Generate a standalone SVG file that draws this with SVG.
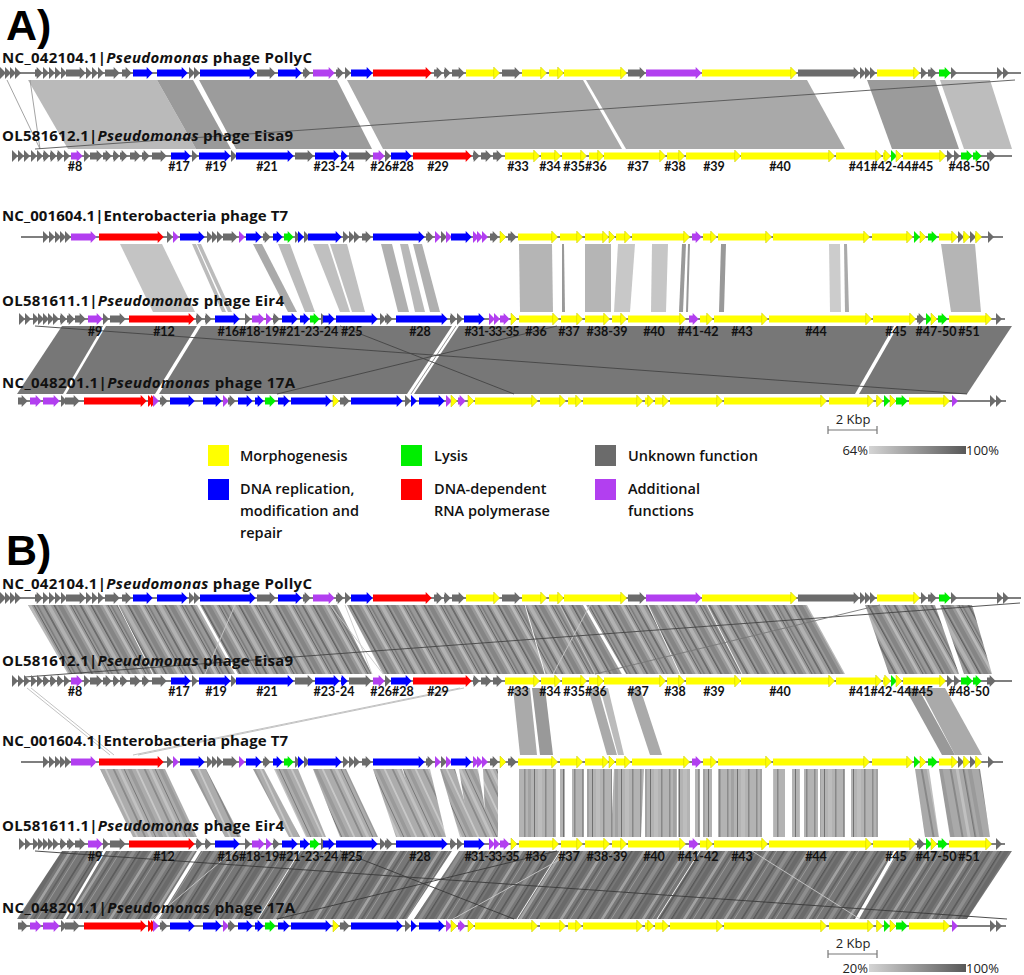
<svg xmlns="http://www.w3.org/2000/svg" width="1024" height="975" viewBox="0 0 1024 975">
<defs>
<style>
.ax{stroke:#555;stroke-width:1.3}
.k{stroke:#6b6b6b;marker-end:url(#mk)}
.y{stroke:#ffff00;marker-end:url(#my)}
.b{stroke:#0000ff;marker-end:url(#mb)}
.r{stroke:#ff0000;marker-end:url(#mr)}
.p{stroke:#b23ff0;marker-end:url(#mp)}
.gr{stroke:#00ee00;marker-end:url(#mg)}
.tl{font-family:"Open Sans","Liberation Sans",sans-serif;font-weight:700;font-size:15px;fill:#111}
.nl{font-family:Lato,"Open Sans","Liberation Sans",sans-serif;font-weight:700;font-size:12.5px;fill:#111;text-anchor:middle}
.lg{font-family:"Open Sans","Liberation Sans",sans-serif;font-weight:600;font-size:14.5px;fill:#111}
.big{font-family:"Liberation Sans","Open Sans",sans-serif;font-weight:700;font-size:43px;fill:#000}
.sc{font-family:"Open Sans","Liberation Sans",sans-serif;font-size:13px;fill:#222}
.thin{fill:none;stroke-width:0.9}
</style>
<marker id="mk" markerUnits="userSpaceOnUse" markerWidth="7" markerHeight="12" refX="0.3" refY="0" orient="0" overflow="visible"><path d="M0-6L6 0L0 6Z" fill="#6b6b6b"/></marker>
<marker id="my" markerUnits="userSpaceOnUse" markerWidth="7" markerHeight="12" refX="0.3" refY="0" orient="0" overflow="visible"><path d="M0-6L6 0L0 6Z" fill="#ffff00" stroke="#c8c800" stroke-width="0.5"/></marker>
<marker id="mb" markerUnits="userSpaceOnUse" markerWidth="7" markerHeight="12" refX="0.3" refY="0" orient="0" overflow="visible"><path d="M0-6L6 0L0 6Z" fill="#0000ff"/></marker>
<marker id="mr" markerUnits="userSpaceOnUse" markerWidth="7" markerHeight="12" refX="0.3" refY="0" orient="0" overflow="visible"><path d="M0-6L6 0L0 6Z" fill="#ff0000"/></marker>
<marker id="mp" markerUnits="userSpaceOnUse" markerWidth="7" markerHeight="12" refX="0.3" refY="0" orient="0" overflow="visible"><path d="M0-6L6 0L0 6Z" fill="#b23ff0"/></marker>
<marker id="mg" markerUnits="userSpaceOnUse" markerWidth="7" markerHeight="12" refX="0.3" refY="0" orient="0" overflow="visible"><path d="M0-6L6 0L0 6Z" fill="#00ee00"/></marker>
<linearGradient id="gs"><stop offset="0" stop-color="#d4d4d4"/><stop offset="1" stop-color="#585858"/></linearGradient>
<pattern id="pA" width="37" height="80" patternUnits="userSpaceOnUse" patternTransform="skewX(29)">
<rect width="37" height="80" fill="#999"/><rect x="3" width="2" height="80" fill="#6c6c6c"/><rect x="7" width="4" height="80" fill="#b2b2b2"/><rect x="14" width="1.5" height="80" fill="#5c5c5c"/><rect x="18" width="5" height="80" fill="#858585"/><rect x="26" width="3" height="80" fill="#bababa"/><rect x="31" width="1" height="80" fill="#636363"/><rect x="34" width="1.5" height="80" fill="#787878"/>
</pattern>
<pattern id="pL" width="31" height="80" patternUnits="userSpaceOnUse" patternTransform="skewX(25)">
<rect width="31" height="80" fill="#acacac"/><rect x="2" width="2" height="80" fill="#8a8a8a"/><rect x="7" width="3" height="80" fill="#c2c2c2"/><rect x="13" width="1" height="80" fill="#777"/><rect x="17" width="4" height="80" fill="#9a9a9a"/><rect x="25" width="2" height="80" fill="#c8c8c8"/>
</pattern>
<pattern id="pM" width="29" height="80" patternUnits="userSpaceOnUse">
<rect width="29" height="80" fill="#b3b3b3"/><rect x="2" width="1.5" height="80" fill="#8c8c8c"/><rect x="6" width="3" height="80" fill="#a2a2a2"/><rect x="12" width="1" height="80" fill="#707070"/><rect x="16" width="4" height="80" fill="#bdbdbd"/><rect x="23" width="1.5" height="80" fill="#888"/>
</pattern>
<pattern id="pR" width="29" height="80" patternUnits="userSpaceOnUse" patternTransform="skewX(10)">
<rect width="29" height="80" fill="#a9a9a9"/><rect x="2" width="2" height="80" fill="#888"/><rect x="8" width="3" height="80" fill="#c0c0c0"/><rect x="15" width="1.5" height="80" fill="#777"/><rect x="20" width="4" height="80" fill="#9a9a9a"/>
</pattern>
<pattern id="pD" width="41" height="80" patternUnits="userSpaceOnUse" patternTransform="skewX(-32)">
<rect width="41" height="80" fill="#777"/><rect x="3" width="2" height="80" fill="#5c5c5c"/><rect x="8" width="4" height="80" fill="#8e8e8e"/><rect x="15" width="1.5" height="80" fill="#555"/><rect x="19" width="5" height="80" fill="#6a6a6a"/><rect x="27" width="3" height="80" fill="#a2a2a2"/><rect x="33" width="2" height="80" fill="#626262"/><rect x="37" width="1" height="80" fill="#999"/>
</pattern>

<g id="t1" stroke-width="7">
<line x1="0" x2="1021" class="ax"/>
<line x1="0" x2="0.3" class="k"/><line x1="5" x2="5.3" class="k"/><line x1="10" x2="10.3" class="k"/><line x1="15" x2="15.3" class="k"/>
<line x1="35" x2="37" class="k"/><line x1="43" x2="43.3" class="k"/><line x1="49" x2="49.3" class="k"/><line x1="55" x2="55.3" class="k"/><line x1="61" x2="61.3" class="k"/><line x1="66" x2="80" class="k"/><line x1="86" x2="86.3" class="k"/><line x1="92" x2="92.3" class="k"/><line x1="98" x2="98.3" class="k"/><line x1="105" x2="114" class="k"/><line x1="122" x2="126" class="k"/>
<line x1="133" x2="147" class="b"/><line x1="157" x2="182" class="b"/>
<line x1="189" x2="189.3" class="k"/><line x1="194" x2="194.3" class="k"/>
<line x1="200" x2="250" class="b"/><line x1="257" x2="270" class="k"/><line x1="278" x2="296" class="b"/><line x1="303" x2="305" class="k"/>
<line x1="313" x2="329" class="p"/><line x1="336" x2="338" class="k"/><line x1="345" x2="345.3" class="k"/>
<line x1="351" x2="367" class="b"/><line x1="373" x2="426" class="r"/>
<line x1="434" x2="437" class="k"/><line x1="444" x2="445" class="k"/><line x1="452" x2="459" class="k"/>
<line x1="466" x2="494" class="y"/><line x1="502" x2="515" class="k"/>
<line x1="522" x2="541" class="y"/><line x1="549" x2="558" class="y"/><line x1="564" x2="621" class="y"/>
<line x1="628" x2="640" class="k"/><line x1="646" x2="696" class="p"/><line x1="702" x2="791" class="y"/>
<line x1="798" x2="854" class="k"/><line x1="860" x2="860.3" class="k"/><line x1="865" x2="865.3" class="k"/><line x1="870" x2="870.3" class="k"/>
<line x1="877" x2="914" class="y"/><line x1="921" x2="921.3" class="k"/><line x1="928" x2="931" class="k"/>
<line x1="939" x2="945" class="gr"/><line x1="951" x2="951.3" class="k"/>
<line x1="997" x2="997.3" class="k"/><line x1="1003" x2="1003.3" class="k"/>
</g>

<g id="t2" stroke-width="7">
<line x1="12" x2="1012" class="ax"/>
<line x1="12" x2="12.3" class="k"/><line x1="18" x2="18.3" class="k"/><line x1="24" x2="24.3" class="k"/><line x1="31" x2="31.3" class="k"/><line x1="37" x2="37.3" class="k"/><line x1="43" x2="44" class="k"/><line x1="50" x2="51" class="k"/><line x1="57" x2="58" class="k"/><line x1="64" x2="64.3" class="k"/>
<line x1="71" x2="77" class="p"/>
<line x1="84" x2="84.3" class="k"/><line x1="90" x2="97" class="k"/><line x1="103" x2="106" class="k"/><line x1="113" x2="114" class="k"/><line x1="120" x2="122" class="k"/><line x1="130" x2="135" class="k"/><line x1="142" x2="144" class="k"/><line x1="152" x2="161" class="k"/>
<line x1="171" x2="185" class="b"/><line x1="192" x2="192.3" class="k"/><line x1="199" x2="225" class="b"/><line x1="231" x2="231.3" class="k"/><line x1="236" x2="288" class="b"/>
<line x1="295" x2="308" class="k"/><line x1="315" x2="334" class="b"/><line x1="341" x2="342" class="b"/><line x1="349" x2="366" class="k"/>
<line x1="373" x2="379" class="p"/><line x1="385" x2="385.3" class="k"/><line x1="391" x2="406" class="b"/><line x1="413" x2="466" class="r"/>
<line x1="473" x2="474" class="k"/><line x1="481" x2="486" class="k"/><line x1="493" x2="497" class="k"/>
<line x1="505" x2="534" class="y"/><line x1="541" x2="555" class="y"/><line x1="562" x2="581" class="y"/><line x1="589" x2="598" class="y"/><line x1="604" x2="660" class="y"/><line x1="667" x2="679" class="y"/><line x1="686" x2="735" class="y"/><line x1="741" x2="829" class="y"/><line x1="836" x2="876" class="y"/><line x1="883" x2="885" class="y"/>
<line x1="891" x2="891.3" class="gr"/><line x1="896" x2="896.3" class="y"/><line x1="903" x2="940" class="y"/>
<line x1="947" x2="947.3" class="k"/><line x1="954" x2="954.3" class="k"/>
<line x1="961" x2="967" class="gr"/><line x1="973" x2="976" class="gr"/><line x1="987" x2="990" class="k"/>
</g>

<g id="t3" stroke-width="7">
<line x1="21" x2="1003" class="ax"/>
<line x1="43" x2="43.3" class="k"/><line x1="49" x2="49.3" class="k"/><line x1="55" x2="55.3" class="k"/><line x1="60" x2="60.3" class="k"/><line x1="65" x2="65.3" class="k"/>
<line x1="71" x2="91" class="p"/><line x1="99" x2="158" class="r"/>
<line x1="167" x2="167.3" class="k"/><line x1="173" x2="173.3" class="p"/><line x1="180" x2="199" class="b"/>
<line x1="207" x2="207.3" class="k"/><line x1="212" x2="212.3" class="k"/><line x1="217" x2="217.3" class="k"/><line x1="223" x2="232" class="k"/>
<line x1="239" x2="239.3" class="p"/><line x1="246" x2="256" class="b"/><line x1="263" x2="265" class="k"/><line x1="273" x2="277" class="b"/><line x1="284" x2="288" class="gr"/>
<line x1="295" x2="295.3" class="k"/><line x1="298" x2="298.3" class="b"/><line x1="304" x2="304.3" class="k"/><line x1="308" x2="336" class="b"/>
<line x1="343" x2="343.3" class="k"/><line x1="349" x2="349.3" class="k"/><line x1="354" x2="354.3" class="k"/><line x1="362" x2="366" class="k"/>
<line x1="373" x2="419" class="b"/><line x1="426" x2="428" class="k"/><line x1="435" x2="435.3" class="p"/><line x1="441" x2="441.3" class="k"/><line x1="446" x2="446.3" class="p"/>
<line x1="451" x2="466" class="b"/><line x1="473" x2="473.3" class="p"/><line x1="477" x2="477.3" class="p"/><line x1="482" x2="482.3" class="p"/>
<line x1="490" x2="493" class="k"/><line x1="500" x2="500.3" class="y"/><line x1="508" x2="511" class="k"/>
<line x1="518" x2="552" class="y"/><line x1="560" x2="577" class="y"/><line x1="585" x2="603" class="y"/><line x1="609" x2="609.3" class="y"/><line x1="616" x2="625" class="y"/><line x1="632" x2="684" class="y"/>
<line x1="692" x2="696" class="p"/><line x1="703" x2="711" class="y"/><line x1="718" x2="766" class="y"/><line x1="773" x2="864" class="y"/><line x1="872" x2="907" class="y"/>
<line x1="914" x2="914.3" class="gr"/><line x1="920" x2="920.3" class="y"/><line x1="928" x2="932" class="gr"/><line x1="939" x2="952" class="y"/>
<line x1="958" x2="958.3" class="k"/><line x1="963" x2="964" class="y"/><line x1="970" x2="970.3" class="k"/><line x1="975" x2="976" class="y"/><line x1="988" x2="988.3" class="k"/>
</g>

<g id="t4" stroke-width="7">
<line x1="19" x2="1005" class="ax"/>
<line x1="19" x2="19.3" class="k"/><line x1="25" x2="25.3" class="k"/><line x1="33" x2="33.3" class="k"/><line x1="38" x2="38.3" class="k"/><line x1="43" x2="43.3" class="k"/><line x1="48" x2="48.3" class="k"/><line x1="53" x2="53.3" class="k"/><line x1="60" x2="61" class="k"/><line x1="67" x2="69" class="k"/><line x1="75" x2="80" class="k"/>
<line x1="88" x2="97" class="p"/><line x1="103" x2="103.3" class="k"/><line x1="110" x2="120" class="k"/><line x1="129" x2="189" class="r"/>
<line x1="196" x2="197" class="k"/><line x1="205" x2="206" class="k"/><line x1="215" x2="234" class="b"/><line x1="245" x2="245.3" class="k"/>
<line x1="252" x2="259" class="p"/><line x1="266" x2="266.3" class="p"/><line x1="273" x2="274" class="k"/>
<line x1="282" x2="292" class="b"/><line x1="300" x2="304" class="b"/><line x1="310" x2="314" class="gr"/><line x1="321" x2="321.3" class="k"/>
<line x1="323" x2="329" class="b"/><line x1="336" x2="372" class="b"/><line x1="380" x2="380.3" class="k"/><line x1="385" x2="387" class="k"/>
<line x1="396" x2="442" class="b"/><line x1="450" x2="451" class="k"/><line x1="457" x2="457.3" class="k"/><line x1="464" x2="479" class="b"/>
<line x1="489" x2="489.3" class="p"/><line x1="494" x2="494.3" class="p"/><line x1="500" x2="504" class="p"/>
<line x1="511" x2="511.3" class="y"/><line x1="519" x2="553" class="y"/><line x1="561" x2="577" class="y"/><line x1="585" x2="604" class="y"/><line x1="612" x2="621" class="y"/><line x1="628" x2="680" class="y"/>
<line x1="689" x2="693" class="p"/><line x1="700" x2="707" class="y"/><line x1="714" x2="762" class="y"/><line x1="769" x2="866" class="y"/><line x1="873" x2="910" class="y"/>
<line x1="917" x2="919" class="k"/><line x1="926" x2="926.3" class="gr"/><line x1="931" x2="931.3" class="y"/><line x1="938" x2="942" class="gr"/><line x1="949" x2="986" class="y"/><line x1="996" x2="996.3" class="k"/>
</g>

<g id="t5" stroke-width="7">
<line x1="18" x2="1006" class="ax"/>
<line x1="18" x2="22" class="k"/><line x1="30" x2="36" class="p"/><line x1="43" x2="54" class="p"/>
<line x1="61" x2="61.3" class="k"/><line x1="65" x2="74" class="k"/>
<line x1="84" x2="141" class="r"/><line x1="148" x2="148.3" class="r"/><line x1="151" x2="151.3" class="r"/><line x1="153" x2="153.3" class="p"/>
<line x1="160" x2="162" class="k"/><line x1="170" x2="189" class="b"/><line x1="203" x2="216" class="b"/><line x1="223" x2="223.3" class="p"/><line x1="228" x2="230" class="k"/>
<line x1="238" x2="247" class="b"/><line x1="255" x2="258" class="b"/><line x1="265" x2="270" class="gr"/><line x1="278" x2="284" class="b"/><line x1="291" x2="326" class="b"/>
<line x1="333" x2="333.3" class="y"/><line x1="340" x2="344" class="k"/><line x1="351" x2="397" class="b"/><line x1="405" x2="405.3" class="k"/><line x1="411" x2="411.3" class="b"/><line x1="419" x2="439" class="b"/>
<line x1="446" x2="446.3" class="p"/><line x1="451" x2="451.3" class="y"/><line x1="458" x2="460" class="p"/><line x1="468" x2="468.3" class="y"/>
<line x1="475" x2="532" class="y"/><line x1="540" x2="560" class="y"/><line x1="568" x2="576" class="y"/><line x1="583" x2="637" class="y"/><line x1="645" x2="648" class="y"/><line x1="655" x2="663" class="y"/><line x1="670" x2="717" class="y"/><line x1="724" x2="821" class="y"/><line x1="829" x2="868" class="y"/><line x1="876" x2="877" class="y"/>
<line x1="884" x2="884.3" class="gr"/><line x1="890" x2="890.3" class="y"/><line x1="896" x2="902" class="gr"/><line x1="909" x2="944" class="y"/><line x1="952" x2="952.3" class="p"/>
<line x1="990" x2="990.3" class="k"/><line x1="996" x2="996.3" class="k"/>
</g>

<g id="lab2">
<text class="nl" x="75">#8</text><text class="nl" x="179">#17</text><text class="nl" x="216">#19</text><text class="nl" x="267">#21</text><text class="nl" x="334">#23-24</text><text class="nl" x="392">#26#28</text><text class="nl" x="438">#29</text>
<text class="nl" x="518">#33</text><text class="nl" x="550">#34</text><text class="nl" x="585">#35#36</text><text class="nl" x="638">#37</text><text class="nl" x="675">#38</text><text class="nl" x="714">#39</text><text class="nl" x="780">#40</text><text class="nl" x="891">#41#42-44#45</text><text class="nl" x="969">#48-50</text>
</g>
<g id="lab4">
<text class="nl" x="95">#9</text><text class="nl" x="164">#12</text><text class="nl" x="290" textLength="145">#16#18-19#21-23-24 #25</text><text class="nl" x="420">#28</text><text class="nl" x="492" textLength="55">#31-33-35</text>
<text class="nl" x="536">#36</text><text class="nl" x="569">#37</text><text class="nl" x="607">#38-39</text><text class="nl" x="654">#40</text><text class="nl" x="698">#41-42</text><text class="nl" x="742">#43</text><text class="nl" x="816">#44</text><text class="nl" x="896">#45</text><text class="nl" x="936">#47-50</text><text class="nl" x="969">#51</text>
</g>
</defs>

<text class="big" x="6" y="40">A)</text>
<text class="big" x="6" y="565">B)</text>

<!-- Panel A connectors -->
<g id="connA">
<g id="a12">
<polygon points="28,80 157,80 196,149 68,149" fill="#bababa"/>
<polygon points="157,80 193,80 231,149 196,149" fill="#9a9a9a"/>
<polygon points="199,80 337,80 372,149 236,149" fill="#9c9c9c"/>
<polygon points="347,80 583,80 622,149 383,149" fill="#a9a9a9"/>
<polygon points="586,80 807,80 845,149 626,149" fill="#a9a9a9"/>
<polygon points="867,80 935,80 959,149 892,149" fill="#9b9b9b"/>
<polygon points="940,80 990,80 1012,149 964,149" fill="#bdbdbd"/>
<path class="thin" stroke="#999" d="M7 80L40 149M30 80L40 149"/>
<path class="thin" stroke="#555" stroke-width="0.8" d="M35 149L1015 80"/>
</g>
<g id="a34">
<polygon points="120,244 162,244 195,312 153,312" fill="#c4c4c4"/>
<polygon points="192,244 196,244 226,312 222,312" fill="#bbb"/>
<polygon points="197,244 201,244 232,312 228,312" fill="#bbb"/>
<polygon points="253,244 262,244 297,312 288,312" fill="#aaa"/>
<polygon points="278,244 290,244 315,312 305,312" fill="#bbb"/>
<polygon points="313,244 328,244 350,312 340,312" fill="#c0c0c0"/>
<polygon points="330,244 347,244 365,312 352,312" fill="#c0c0c0"/>
<polygon points="381,244 392,244 409,312 398,312" fill="#b0b0b0"/>
<polygon points="400,244 408,244 425,312 415,312" fill="#b8b8b8"/>
<polygon points="413,244 422,244 440,312 430,312" fill="#b0b0b0"/>
<polygon points="519,244 552,244 553,312 520,312" fill="#b5b5b5"/>
<polygon points="562,244 564,244 565,312 562,312" fill="#999"/>
<polygon points="585,244 611,244 611,312 585,312" fill="#b5b5b5"/>
<polygon points="618,244 635,244 630,312 614,312" fill="#c8c8c8"/>
<polygon points="652,244 668,244 666,312 651,312" fill="#c6c6c6"/>
<polygon points="682,244 686,244 683,312 679,312" fill="#999"/>
<polygon points="688,244 690,244 688,312 686,312" fill="#999"/>
<polygon points="721,244 726,244 724,312 719,312" fill="#999"/>
<polygon points="829,244 840,244 841,312 830,312" fill="#ccc"/>
<polygon points="844,244 847,244 849,312 845,312" fill="#aaa"/>
<polygon points="941,244 975,244 981,312 951,312" fill="#b5b5b5"/>
</g>
<g id="a45" fill="#777">
<polygon points="62,326 103,326 63,394 17,394"/>
<polygon points="106,326 197,326 155,394 66,394"/>
<polygon points="201,326 452,326 407,394 159,394"/>
<polygon points="459,326 894,326 855,394 414,394"/>
<polygon points="898,326 1012,326 967,394 859,394"/>
<path class="thin" stroke="#8a8a8a" d="M456 326L411 394"/>
<path class="thin" stroke="#444" stroke-width="0.8" d="M35 326L967 394M340 326L514 394M277 394L557 326"/>
</g>
</g>

<!-- Panel B connectors -->
<g id="connB">
<g id="b12" fill="url(#pA)">
<polygon points="28,605 197,605 235,674 68,674"/>
<polygon points="200,605 337,605 372,674 238,674"/>
<polygon points="347,605 583,605 622,674 383,674"/>
<polygon points="586,605 807,605 845,674 626,674"/>
<polygon points="865,605 935,605 959,674 889,674"/>
<polygon points="940,605 972,605 992,674 964,674"/>
<path class="thin" stroke="#fff" stroke-width="1.6" d="M118 605L153 674M648 605L680 674M707 605L742 674M525 605L545 674"/>
<path class="thin" stroke="#c8c8c8" stroke-width="1.6" d="M235 605L205 674M330 605L383 674M345 605L372 674M590 605L553 674M560 605L595 674"/>
<path class="thin" stroke="#444" stroke-width="0.9" d="M25 677L1020 603"/>
<path class="thin" stroke="#777" stroke-width="0.9" d="M595 674L880 605"/>
</g>
<g id="b23">
<polygon points="513,688 530,688 537,755 520,755" fill="#aaa"/>
<polygon points="532,688 545,688 553,755 540,755" fill="#999"/>
<polygon points="588,688 598,688 617,755 607,755" fill="#aaa"/>
<polygon points="600,688 608,688 624,755 618,755" fill="#bbb"/>
<polygon points="628,688 640,688 662,755 650,755" fill="#aaa"/>
<polygon points="905,688 918,688 955,755 942,755" fill="#999"/>
<polygon points="920,688 945,688 982,755 955,755" fill="#aaa"/>
<path class="thin" stroke="#bbb" stroke-width="1.4" d="M27 688L110 755M31 688L114 755M133 755L460 688M138 755L464 688"/>
</g>
<g id="b34">
<g fill="url(#pL)">
<polygon points="100,769 165,769 197,837 133,837"/>
<polygon points="190,769 206,769 241,837 225,837"/>
<polygon points="253,769 264,769 300,837 289,837"/>
<polygon points="274,769 298,769 326,837 306,837"/>
<polygon points="313,769 346,769 378,837 340,837"/>
<polygon points="373,769 402,769 426,837 396,837"/>
<polygon points="403,769 430,769 446,837 418,837"/>
<polygon points="440,769 455,769 475,837 460,837"/>
<polygon points="459,769 478,769 490,837 470,837"/>
<polygon points="483,769 498,769 498,837 486,837"/>
</g>
<g fill="url(#pM)">
<rect x="519" y="769" width="37" height="68"/><rect x="560" y="769" width="5" height="68"/><rect x="572" y="769" width="12" height="68"/><rect x="587" y="769" width="25" height="68"/>
<polygon points="614,769 644,769 641,837 611,837"/>
<rect x="645" y="769" width="32" height="68"/><rect x="678" y="769" width="12" height="68"/><rect x="695" y="769" width="5" height="68"/><rect x="703" y="769" width="9" height="68"/>
<rect x="718" y="769" width="44" height="68"/><rect x="773" y="769" width="12" height="68"/><rect x="792" y="769" width="8" height="68"/><rect x="804" y="769" width="14" height="68"/><rect x="820" y="769" width="25" height="68"/><rect x="851" y="769" width="27" height="68"/>
</g>
<g fill="url(#pR)">
<polygon points="915,769 929,769 939,837 925,837"/>
<polygon points="939,769 980,769 990,837 950,837"/>
</g>
</g>
<g id="b45" fill="url(#pD)">
<polygon points="62,851 103,851 63,919 17,919"/>
<polygon points="106,851 197,851 155,919 66,919"/>
<polygon points="201,851 452,851 407,919 159,919"/>
<polygon points="459,851 894,851 855,919 414,919"/>
<polygon points="898,851 1012,851 967,919 859,919"/>
<path class="thin" stroke="#fff" stroke-width="1.5" d="M300 851L258 919M560 851L517 919M700 851L657 919"/>
<path class="thin" stroke="#c8c8c8" stroke-width="1.3" d="M453 919L575 851M752 851L860 919M233 851L153 919"/>
<path class="thin" stroke="#3a3a3a" stroke-width="1" d="M35 851L1007 919M340 851L514 919M277 919L557 851"/>
</g>
</g>

<!-- Genome tracks -->
<g id="tracksA">
<use href="#t1" y="73"/><use href="#t2" y="156"/><use href="#t3" y="237"/><use href="#t4" y="319"/><use href="#t5" y="401"/>
<use href="#lab2" y="171"/><use href="#lab4" y="336"/>
</g>
<g id="tracksB">
<use href="#t1" y="598"/><use href="#t2" y="681"/><use href="#t3" y="762"/><use href="#t4" y="844"/><use href="#t5" y="926"/>
<use href="#lab2" y="696"/><use href="#lab4" y="861"/>
</g>

<!-- Track labels -->
<g id="labelsA" class="tl">
<text x="2" y="63" textLength="310">NC_042104.1|<tspan font-style="italic">Pseudomonas</tspan> phage PollyC</text>
<text x="2" y="141" textLength="291">OL581612.1|<tspan font-style="italic">Pseudomonas</tspan> phage Eisa9</text>
<text x="2" y="221" textLength="286">NC_001604.1|Enterobacteria phage T7</text>
<text x="2" y="306" textLength="282">OL581611.1|<tspan font-style="italic">Pseudomonas</tspan> phage Eir4</text>
<text x="2" y="388" textLength="293">NC_048201.1|<tspan font-style="italic">Pseudomonas</tspan> phage 17A</text>
</g>
<g id="labelsB" class="tl">
<text x="2" y="589" textLength="310">NC_042104.1|<tspan font-style="italic">Pseudomonas</tspan> phage PollyC</text>
<text x="2" y="666" textLength="291">OL581612.1|<tspan font-style="italic">Pseudomonas</tspan> phage Eisa9</text>
<text x="2" y="746" textLength="286">NC_001604.1|Enterobacteria phage T7</text>
<text x="2" y="831" textLength="282">OL581611.1|<tspan font-style="italic">Pseudomonas</tspan> phage Eir4</text>
<text x="2" y="913" textLength="293">NC_048201.1|<tspan font-style="italic">Pseudomonas</tspan> phage 17A</text>
</g>

<!-- Scales -->
<g id="scaleA">
<text class="sc" x="853" y="424" text-anchor="middle">2 Kbp</text>
<path d="M828 430H877M828 426V434M877 426V434" stroke="#777" stroke-width="1.2" fill="none"/>
<text class="sc" x="868" y="455" text-anchor="end">64%</text>
<rect x="869" y="446" width="97" height="8" fill="url(#gs)"/>
<text class="sc" x="966" y="455">100%</text>
</g>
<g id="scaleB">
<text class="sc" x="853" y="948" text-anchor="middle">2 Kbp</text>
<path d="M828 954H877M828 950V958M877 950V958" stroke="#777" stroke-width="1.2" fill="none"/>
<text class="sc" x="868" y="973" text-anchor="end">20%</text>
<rect x="869" y="964" width="97" height="8" fill="url(#gs)"/>
<text class="sc" x="966" y="973">100%</text>
</g>

<!-- Legend -->
<g id="legend">
<rect x="208" y="445" width="21" height="21" fill="#ffff00"/><text class="lg" x="240" y="461">Morphogenesis</text>
<rect x="401" y="445" width="21" height="21" fill="#00ee00"/><text class="lg" x="434" y="461">Lysis</text>
<rect x="595" y="445" width="21" height="21" fill="#6b6b6b"/><text class="lg" x="628" y="461">Unknown function</text>
<rect x="208" y="479" width="21" height="21" fill="#0000ff"/><text class="lg" x="240" y="494">DNA replication,</text><text class="lg" x="240" y="516">modification and</text><text class="lg" x="240" y="538">repair</text>
<rect x="401" y="479" width="21" height="21" fill="#ff0000"/><text class="lg" x="434" y="494">DNA-dependent</text><text class="lg" x="434" y="516">RNA polymerase</text>
<rect x="595" y="479" width="21" height="21" fill="#b23ff0"/><text class="lg" x="628" y="494">Additional</text><text class="lg" x="628" y="516">functions</text>
</g>
</svg>
